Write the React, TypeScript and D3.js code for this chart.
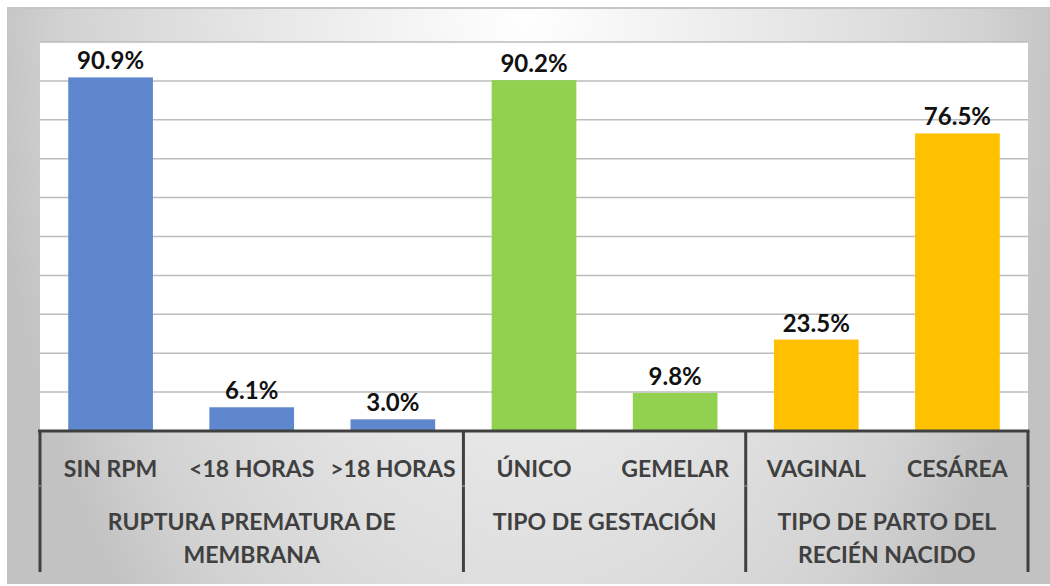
import React, { useRef, useEffect } from "react";
import * as d3 from "d3";

const categories = ["SIN RPM", "<18 HORAS", ">18 HORAS", "ÚNICO", "GEMELAR", "VAGINAL", "CESÁREA"];
const values = [90.9, 6.1, 3.0, 90.2, 9.8, 23.5, 76.5];
const groupIndex = [0, 0, 0, 1, 1, 2, 2];
const groupLabels = [
  ["RUPTURA PREMATURA DE", "MEMBRANA"],
  ["TIPO DE GESTACIÓN"],
  ["TIPO DE PARTO DEL", "RECIÉN NACIDO"],
];
const groupColors = ["#5F87CE", "#92D050", "#FFC000"];
const yTicks = [0, 10, 20, 30, 40, 50, 60, 70, 80, 90, 100];

export default function App() {
  const ref = useRef<SVGSVGElement>(null);

  useEffect(() => {
    const width = 1050;
    const height = 586;
    const margin = { top: 42, right: 22, bottom: 155, left: 40 };
    const font = "Lato, 'Open Sans', sans-serif";

    const svg = d3.select(ref.current);
    svg.selectAll("*").remove();
    svg.attr("width", width).attr("height", height);

    // background: white at top centre, grey towards the sides and bottom
    const defs = svg.append("defs");
    const grad = defs
      .append("radialGradient")
      .attr("id", "bg")
      .attr("gradientUnits", "userSpaceOnUse")
      .attr("cx", 0)
      .attr("cy", 0)
      .attr("r", 1)
      .attr("gradientTransform", "translate(525,0) scale(540,900)");
    grad.append("stop").attr("offset", "0%").attr("stop-color", "#ffffff");
    grad.append("stop").attr("offset", "30%").attr("stop-color", "#f0f0f0");
    grad.append("stop").attr("offset", "65%").attr("stop-color", "#dedede");
    grad.append("stop").attr("offset", "85%").attr("stop-color", "#d2d2d2");
    grad.append("stop").attr("offset", "100%").attr("stop-color", "#c2c2c2");

    svg.append("rect").attr("width", width).attr("height", height).attr("fill", "#ffffff");
    svg
      .append("rect")
      .attr("x", 7)
      .attr("y", 7)
      .attr("width", width - 7)
      .attr("height", 577)
      .attr("fill", "url(#bg)");
    svg
      .append("line")
      .attr("x1", 7)
      .attr("x2", width)
      .attr("y1", 8)
      .attr("y2", 8)
      .attr("stroke", "#c6c6c6")
      .attr("stroke-width", 2);

    const x = d3
      .scaleBand()
      .domain(categories)
      .range([margin.left, width - margin.right])
      .paddingInner(0.4)
      .paddingOuter(0.2);

    const y = d3
      .scaleLinear()
      .domain([0, 100])
      .range([height - margin.bottom, margin.top]);

    // plot area
    svg
      .append("rect")
      .attr("x", margin.left)
      .attr("y", y(100))
      .attr("width", width - margin.right - margin.left)
      .attr("height", y(0) - y(100))
      .attr("fill", "#ffffff");

    // gridlines
    svg
      .append("g")
      .selectAll("line")
      .data(yTicks.slice(1))
      .enter()
      .append("line")
      .attr("x1", margin.left)
      .attr("x2", width - margin.right)
      .attr("y1", d => y(d))
      .attr("y2", d => y(d))
      .attr("stroke", "#bdbdbd")
      .attr("stroke-width", 1.5);

    const data = categories.map((c, i) => ({ label: c, value: values[i], group: groupIndex[i] }));

    // bars
    svg
      .append("g")
      .selectAll("rect")
      .data(data)
      .enter()
      .append("rect")
      .attr("x", d => x(d.label)!)
      .attr("y", d => y(d.value))
      .attr("width", x.bandwidth())
      .attr("height", d => y(0) - y(d.value))
      .attr("fill", d => groupColors[d.group]);

    // value labels
    svg
      .append("g")
      .selectAll("text")
      .data(data)
      .enter()
      .append("text")
      .attr("x", d => x(d.label)! + x.bandwidth() / 2)
      .attr("y", d => y(d.value) - 8)
      .attr("text-anchor", "middle")
      .attr("font-family", font)
      .attr("font-weight", "bold")
      .attr("font-size", 24)
      .attr("fill", "#111")
      .text(d => d.value.toFixed(1) + "%");

    // baseline
    const base = y(0);
    svg
      .append("line")
      .attr("x1", margin.left - 2)
      .attr("x2", width - margin.right + 1.5)
      .attr("y1", base)
      .attr("y2", base)
      .attr("stroke", "#404040")
      .attr("stroke-width", 3);

    // group dividers
    const step = x.step();
    const gap = (step - x.bandwidth()) / 2;
    const groupBounds: { start: number; end: number }[] = groupLabels.map((_, g) => {
      const members = data.filter(d => d.group === g);
      const start = x(members[0].label)! - gap;
      const end = x(members[members.length - 1].label)! + x.bandwidth() + gap;
      return { start, end };
    });
    const divX = [groupBounds[0].start, ...groupBounds.map(b => b.end)];
    svg
      .append("g")
      .selectAll("line")
      .data(divX)
      .enter()
      .append("line")
      .attr("x1", d => d)
      .attr("x2", d => d)
      .attr("y1", base)
      .attr("y2", base + 141)
      .attr("stroke", "#404040")
      .attr("stroke-width", 3);

    // faint marks where the category row meets the group row
    svg
      .append("g")
      .selectAll("line")
      .data(divX)
      .enter()
      .append("line")
      .attr("x1", d => d - 1.5)
      .attr("x2", d => d + 1.5)
      .attr("y1", base + 55)
      .attr("y2", base + 55)
      .attr("stroke", "#8a8a8a")
      .attr("stroke-width", 1.5);

    // category labels
    svg
      .append("g")
      .selectAll("text")
      .data(categories)
      .enter()
      .append("text")
      .attr("x", d => x(d)! + x.bandwidth() / 2)
      .attr("y", base + 46)
      .attr("text-anchor", "middle")
      .attr("font-family", font)
      .attr("font-weight", "bold")
      .attr("font-size", 23)
      .attr("fill", "#404040")
      .text(d => d);

    // group labels
    groupLabels.forEach((lines, g) => {
      const cx = (groupBounds[g].start + groupBounds[g].end) / 2;
      lines.forEach((line, li) => {
        svg
          .append("text")
          .attr("x", cx)
          .attr("y", base + 99 + li * 33)
          .attr("text-anchor", "middle")
          .attr("font-family", font)
          .attr("font-weight", "bold")
          .attr("font-size", 23)
          .attr("fill", "#404040")
          .text(line);
      });
    });
  }, []);

  return (
    <div style={{ position: "fixed", left: 0, top: 0 }}>
      <svg ref={ref}></svg>
    </div>
  );
}
